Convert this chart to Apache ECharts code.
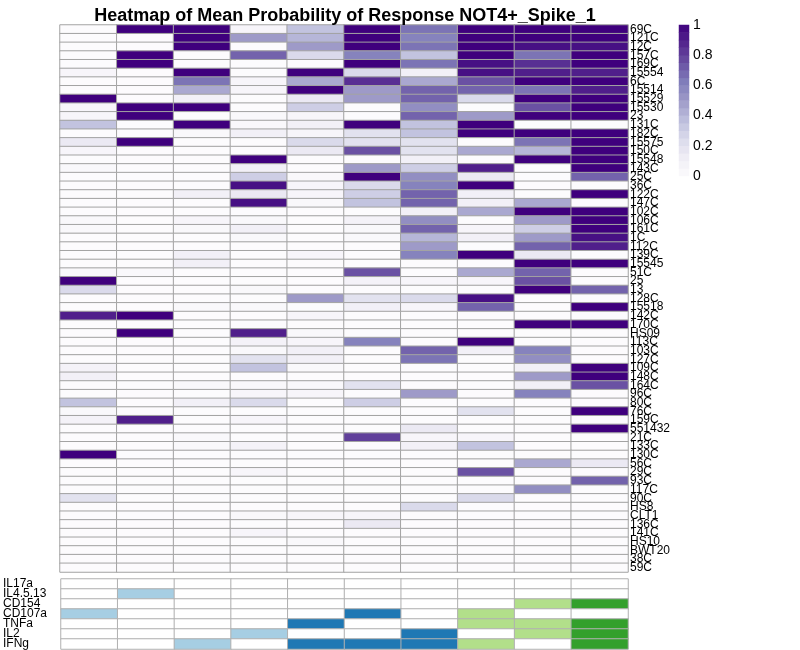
<!DOCTYPE html>
<html>
<head>
<meta charset="utf-8">
<script src="https://cdn.jsdelivr.net/npm/echarts@6/dist/echarts.min.js"></script>
<style>html,body{margin:0;padding:0;background:#fff}#c{width:800px;height:650px}</style>
</head>
<body>
<div id="c"></div>
<script>
const titleText = 'Heatmap of Mean Probability of Response NOT4+_Spike_1';
const subsetColumns = ['S1','S2','S3','S4','S5','S6','S7','S8','S9','S10'];
const rowLabels = ['69C','121C','12C','157C','169C','15554','6C','15514','15529','15530','23','131C','182C','15575','150C','15548','143C','25C','36C','122C','147C','102C','106C','161C','1C','112C','139C','15545','51C','25','13','128C','15518','142C','170C','HS09','113C','103C','127C','109C','148C','164C','96C','80C','76C','159C','551432','21C','133C','130C','56C','29C','93C','117C','90C','HS8','CLT1','136C','141C','HS10','BWT20','38C','59C'];
// mean probability, one row per sample (same order as rowLabels), one value per subset column
const meanProb = [
 [0,1,1,0.05,0.35,1,0.65,1,1,1],
 [0,0,1,0.5,0.4,1,0.6,1,1,1],
 [0,0,1,0,0.5,1,0.65,1,0.95,0.95],
 [0,1,0,0.7,0.25,0.6,0.35,1,0.65,1],
 [0,1,0,0,0,1,0.65,0.95,0.85,1],
 [0.05,0,1,0,1,0.25,0.1,0.95,0.9,0.9],
 [0,0,0.65,0.05,0.45,0.85,0.45,0.75,1,1],
 [0,0,0.45,0.05,1,0.5,0.7,0.7,0.65,0.9],
 [1,0,0.1,0,0.15,0.5,0.7,0.25,1,1],
 [0.05,1,1,0,0.3,0,0.55,0,0.75,1],
 [0.05,1,0,0.03,0.05,0,0.7,0.5,1,1],
 [0.35,0,1,0.03,0.1,1,0.35,1,0,0],
 [0,0,0.03,0.1,0.05,0.2,0.35,1,1,1],
 [0.15,1,0,0,0.25,0.2,0.2,0,0.65,1],
 [0.05,0,0,0,0.15,0.75,0.2,0.45,0.4,1],
 [0,0,0,1,0,0,0.1,0,1,1],
 [0.03,0,0,0.1,0,0.5,0.3,0.9,0,1],
 [0,0,0,0.3,0.03,1,0.55,0.15,0,0.7],
 [0,0,0,0.95,0.05,0.25,0.6,1,0,0],
 [0,0,0.1,0.15,0.05,0.3,0.7,0.1,0,1],
 [0,0,0,0.95,0.03,0.35,0.7,0.1,0.45,0],
 [0,0,0,0,0,0,0.1,0.45,1,1],
 [0.03,0,0.05,0.03,0,0.08,0.55,0,0.5,1],
 [0.03,0,0.03,0.1,0,0.03,0.7,0.05,0.3,1],
 [0,0,0,0.03,0,0.03,0.4,0.1,0.5,0.95],
 [0,0,0,0,0,0,0.5,0,0.7,0.9],
 [0,0,0.1,0,0.05,0,0.6,1,0.15,0],
 [0,0,0.1,0,0,0,0,0,1,1],
 [0.03,0.03,0,0,0,0.75,0,0.45,0.7,0],
 [1,0,0,0,0,0.08,0.05,0.05,0.75,0],
 [0.25,0,0,0.03,0,0,0,0,1,0.7],
 [0,0,0,0,0.5,0.2,0.25,0.95,0,0],
 [0,0,0.03,0.03,0,0.1,0.05,0.7,0,1],
 [0.9,1,0,0,0.05,0,0,0,0,0],
 [0,0,0,0,0,0,0,0,1,1],
 [0,1,0,0.9,0.03,0,0,0,0,0],
 [0,0,0,0.08,0.05,0.6,0,1,0,0],
 [0,0,0,0.03,0.1,0,0.7,0.1,0.6,0],
 [0,0,0,0.2,0.1,0,0.65,0,0.55,0],
 [0.08,0,0,0.35,0.03,0,0,0,0.1,1],
 [0.1,0,0,0,0,0,0,0,0.5,1],
 [0,0,0.03,0.03,0.03,0.2,0,0,0.1,0.75],
 [0,0,0,0.05,0.05,0,0.5,0,0.6,0],
 [0.35,0,0.1,0.25,0,0.3,0,0,0,0],
 [0.03,0,0,0,0,0,0,0.2,0,1],
 [0.08,0.9,0,0.05,0,0,0,0,0,0],
 [0,0,0,0,0,0,0.15,0,0,1],
 [0,0,0.03,0,0,0.8,0.05,0.05,0,0],
 [0,0,0.03,0.08,0,0,0.1,0.35,0,0],
 [1,0,0,0,0,0,0,0,0,0],
 [0,0,0,0,0,0,0,0,0.45,0.15],
 [0,0,0,0.05,0,0,0,0.75,0,0],
 [0,0,0,0,0,0,0,0,0,0.7],
 [0,0,0,0,0,0,0,0,0.55,0],
 [0.2,0,0,0,0,0,0,0.25,0,0],
 [0,0,0,0,0,0,0.25,0,0,0],
 [0,0,0,0.03,0.05,0.05,0,0,0,0],
 [0,0,0,0,0,0.15,0,0,0,0],
 [0,0,0,0.05,0,0,0,0,0,0],
 [0,0,0,0,0.03,0,0,0,0,0],
 [0,0,0,0,0,0,0,0,0,0],
 [0,0,0,0,0,0,0,0,0,0],
 [0,0,0,0,0,0,0,0,0,0]
];
// cytokine annotation: presence (1) of each marker in each subset column
const markerNames = ['IL17a','IL4.5.13','CD154','CD107a','TNFa','IL2','IFNg'];
const IL17a   = [0,0,0,0,0,0,0,0,0,0];
const IL4513  = [0,1,0,0,0,0,0,0,0,0];
const CD154   = [0,0,0,0,0,0,0,0,1,1];
const CD107a  = [1,0,0,0,0,1,0,1,0,0];
const TNFa    = [0,0,0,0,1,0,0,1,1,1];
const IL2     = [0,0,0,1,0,0,1,0,1,1];
const IFNg    = [0,0,1,0,1,1,1,1,0,1];
const markerRows = [IL17a, IL4513, CD154, CD107a, TNFa, IL2, IFNg];
// colour-bar steps
const colorbarSteps = [0.025,0.075,0.125,0.175,0.225,0.275,0.325,0.375,0.425,0.475,0.525,0.575,0.625,0.675,0.725,0.775,0.825,0.875,0.925,0.975];
const colorbarTicks = [0,0.2,0.4,0.6,0.8,1];

const purples = ['#fcfbfd','#efedf5','#dadaeb','#bcbddc','#9e9ac8','#807dba','#6a51a3','#54278f','#3f007d'];
const FONT = 'Liberation Sans, Arial, sans-serif';

const mainData = [];
meanProb.forEach((row, r) => row.forEach((v, c) => mainData.push([c, r, v])));
const degree = subsetColumns.map((_, c) => markerRows.reduce((s, m) => s + m[c], 0));
const annoData = [];
markerRows.forEach((m, r) => m.forEach((p, c) => annoData.push([c, r, p ? degree[c] : 0])));
const cbData = colorbarSteps.map((v, i) => [0, i, v]);

const chart = echarts.init(document.getElementById('c'), null, {renderer: 'canvas'});
chart.setOption({
  backgroundColor: '#fff',
  animation: false,
  textStyle: {fontFamily: FONT},
  title: {
    text: titleText, left: 340, top: 2, textAlign: 'center',
    textStyle: {fontFamily: FONT, fontSize: 18, fontWeight: 'bold', color: '#000'}
  },
  grid: [
    {left: 60, top: 25, width: 568, height: 547},
    {left: 60, top: 579, width: 568, height: 70},
    {left: 679, top: 25, width: 10, height: 151}
  ],
  xAxis: [
    {type: 'category', gridIndex: 0, data: subsetColumns, show: false},
    {type: 'category', gridIndex: 1, data: subsetColumns, show: false},
    {type: 'category', gridIndex: 2, data: ['cb'], show: false}
  ],
  yAxis: [
    {type: 'category', gridIndex: 0, data: rowLabels, inverse: true, position: 'right',
     axisLine: {show: false}, axisTick: {show: false}, splitLine: {show: false},
     axisLabel: {interval: 0, margin: 2, fontSize: 12, color: '#000', fontFamily: FONT}},
    {type: 'category', gridIndex: 1, data: markerNames, inverse: true, position: 'left',
     axisLine: {show: false}, axisTick: {show: false},
     axisLabel: {interval: 0, margin: 58, align: 'left', fontSize: 12, color: '#000', fontFamily: FONT}},
    {type: 'category', gridIndex: 2, data: colorbarSteps.map(String), show: false},
    {type: 'value', gridIndex: 2, min: 0, max: 1, interval: 0.2, position: 'right',
     axisLine: {show: false}, axisTick: {show: false}, splitLine: {show: false},
     axisLabel: {margin: 4, fontSize: 14, color: '#000', fontFamily: FONT,
       customValues: colorbarTicks, formatter: v => String(+v.toFixed(1))}}
  ],
  visualMap: [
    {type: 'continuous', min: 0, max: 1, seriesIndex: [0, 2], show: false, inRange: {color: purples}},
    {type: 'piecewise', seriesIndex: [1], show: false, pieces: [
      {value: 0, color: '#ffffff'},
      {value: 1, color: '#a6cee3'},
      {value: 2, color: '#1f78b4'},
      {value: 3, color: '#b2df8a'},
      {value: 4, color: '#33a02c'}
    ]}
  ],
  series: [
    {type: 'heatmap', xAxisIndex: 0, yAxisIndex: 0, data: mainData,
     itemStyle: {borderColor: '#a3a3a3', borderWidth: 1}, emphasis: {disabled: true}},
    {type: 'heatmap', xAxisIndex: 1, yAxisIndex: 1, data: annoData,
     itemStyle: {borderColor: '#b0b0b0', borderWidth: 1}, emphasis: {disabled: true}},
    {type: 'heatmap', xAxisIndex: 2, yAxisIndex: 2, data: cbData,
     itemStyle: {borderWidth: 0}, emphasis: {disabled: true}}
  ]
});
</script>
</body>
</html>
